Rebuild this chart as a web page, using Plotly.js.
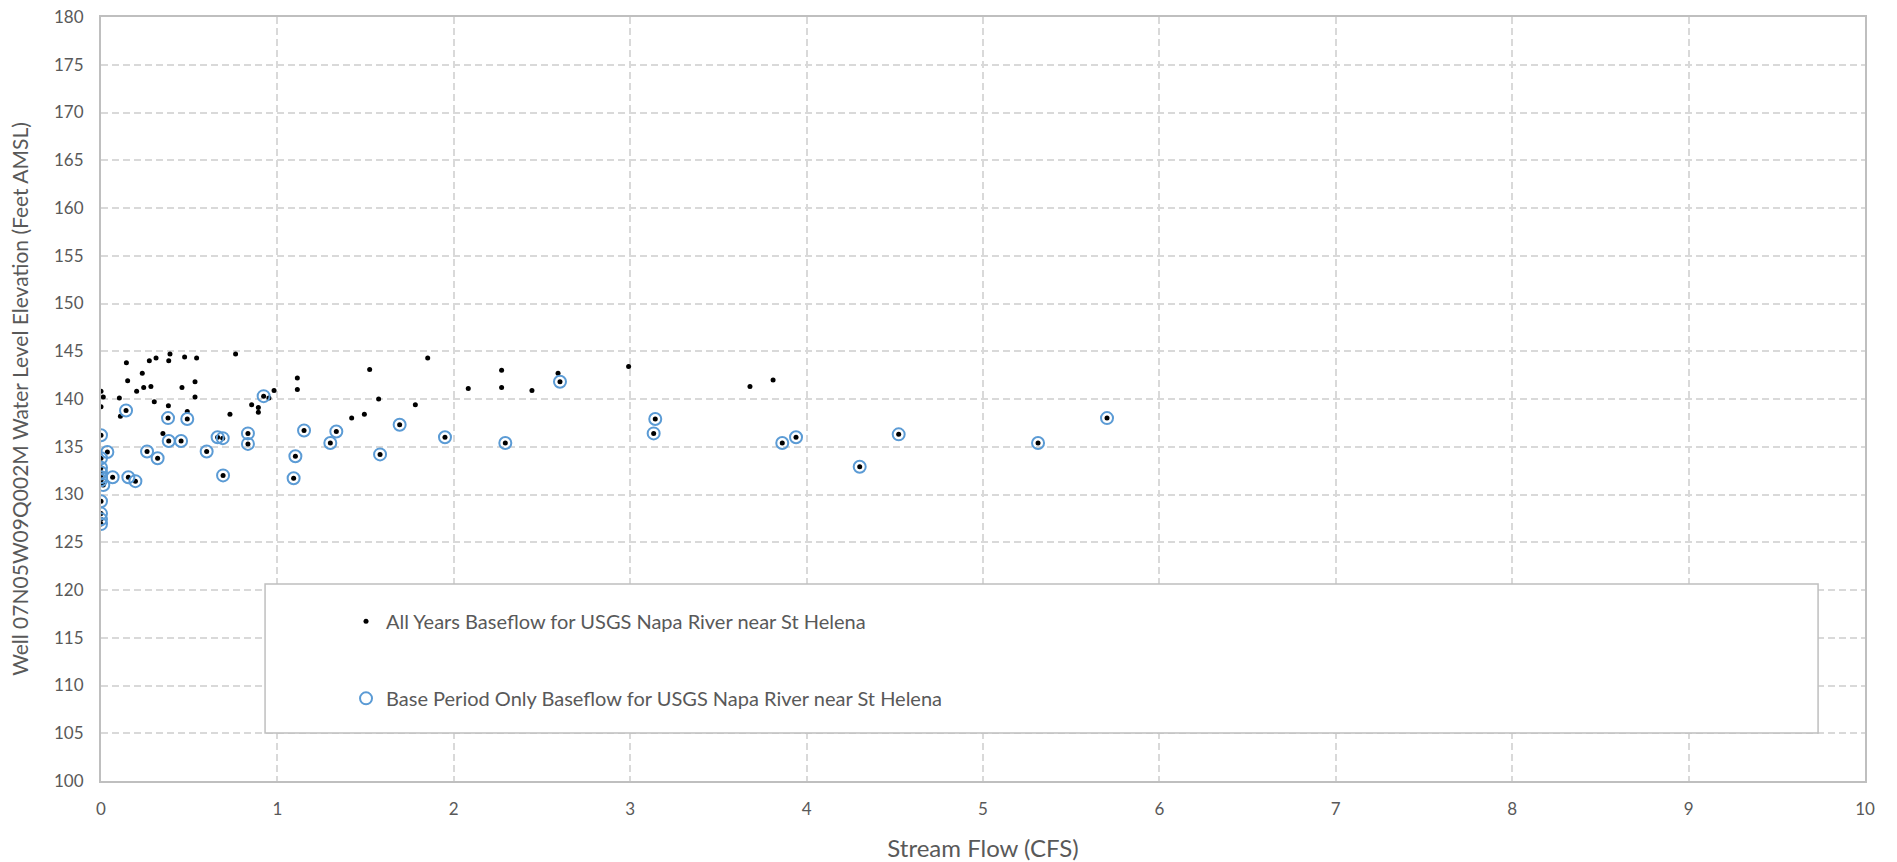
<!DOCTYPE html>
<html>
<head>
<meta charset="utf-8">
<script src="https://cdn.plot.ly/plotly-3.0.1.min.js"></script>
<style>
html,body{margin:0;padding:0;background:#fff;}
#chart{width:1897px;height:862px;}
</style>
</head>
<body>
<div id="chart"></div>
<script>
// Points that appear only in the "All Years" series (black dots without a blue ring)
const allYearsOnlyX = [0.00, 0.013, 0.00, 0.144, 0.151, 0.104, 0.11, 0.234, 0.274, 0.312, 0.391, 0.384, 0.474, 0.542, 0.763,
  0.202, 0.242, 0.283, 0.302, 0.382, 0.459, 0.533, 0.533, 0.489, 0.351, 0.731, 0.854, 0.892, 0.892, 0.952, 0.981,
  1.113, 1.113, 1.523, 1.852, 2.082, 1.574, 1.782, 1.421, 1.493,
  2.271, 2.271, 2.443, 2.591, 2.991, 3.679, 3.81];
const allYearsOnlyY = [140.8, 140.2, 139.2, 143.8, 141.9, 140.1, 138.2, 142.7, 144.0, 144.3, 144.7, 144.0, 144.4, 144.3, 144.7,
  140.8, 141.2, 141.3, 139.7, 139.3, 141.2, 141.8, 140.2, 138.7, 136.4, 138.4, 139.4, 139.1, 138.6, 140.1, 140.9,
  142.2, 141.0, 143.1, 144.3, 141.1, 140.0, 139.4, 138.0, 138.4,
  143.0, 141.2, 140.9, 142.7, 143.4, 141.3, 142.0];

// Base period points (blue rings, also part of the All Years series)
const baseX = [0.00, 0.142, 0.38, 0.489, 0.384, 0.454, 0.036, 0.00, 0.261, 0.321, 0.599, 0.661, 0.69, 0.833, 0.833, 0.922,
  0.692, 0.066, 0.155, 0.195, 0.00, 0.00, 0.00, 0.00, 0.013, 0.00, 0.00, 0.00, 0.00,
  1.151, 1.334, 1.30, 1.693, 1.102, 1.092, 1.582, 1.95,
  2.602, 2.292, 3.142, 3.133, 3.862, 3.94, 4.301, 4.522, 5.312, 5.703];
const baseY = [136.2, 138.8, 138.0, 137.9, 135.6, 135.6, 134.45, 133.8, 134.5, 133.8, 134.5, 136.0, 135.9, 136.4, 135.3, 140.3,
  132.0, 131.8, 131.8, 131.4, 132.8, 132.3, 131.8, 131.5, 131.0, 129.3, 128.0, 127.4, 126.9,
  136.7, 136.6, 135.4, 137.3, 134.0, 131.7, 134.2, 136.0,
  141.8, 135.4, 137.9, 136.4, 135.4, 136.0, 132.9, 136.3, 135.4, 138.0];

const xTicks = [0,1,2,3,4,5,6,7,8,9,10];
const yTicks = [100,105,110,115,120,125,130,135,140,145,150,155,160,165,170,175,180];

const allX = allYearsOnlyX.concat(baseX);
const allY = allYearsOnlyY.concat(baseY);

const FONT = 'Lato, "Open Sans", sans-serif';
const TXT = '#595959';

const traces = [
  {
    x: allX, y: allY, type: 'scatter', mode: 'markers',
    name: 'All Years Baseflow for USGS Napa River near St Helena',
    legendgroup: 'a',
    marker: {color: '#000000', size: 5, symbol: 'circle'},
    hoverinfo: 'x+y'
  },
  {
    x: baseX, y: baseY, type: 'scatter', mode: 'markers',
    name: 'Base Period Only Baseflow for USGS Napa River near St Helena',
    legendgroup: 'b',
    marker: {color: '#5B9BD5', size: 12, symbol: 'circle-open', line: {color: '#5B9BD5', width: 2}},
    hoverinfo: 'x+y'
  }
];

const layout = {
  width: 1897, height: 862,
  margin: {l: 101, r: 32, t: 17, b: 81},
  paper_bgcolor: '#ffffff', plot_bgcolor: '#ffffff',
  font: {family: FONT, color: TXT, size: 16},
  showlegend: true,
  xaxis: {
    range: [0, 10], tickvals: xTicks, ticktext: xTicks.map(String),
    showline: true, mirror: true, linecolor: '#BFBFBF', linewidth: 2,
    showgrid: true, gridcolor: '#D9D9D9', gridwidth: 1.5, griddash: '7px,4px',
    zeroline: false, ticks: '', ticklabelstandoff: 12,
    tickfont: {family: FONT, size: 17, color: TXT},
    title: {text: 'Stream Flow (CFS)', font: {family: FONT, size: 24, color: TXT}, standoff: 23},
    automargin: false
  },
  yaxis: {
    range: [100, 180], tickvals: yTicks, ticktext: yTicks.map(String),
    showline: true, mirror: true, linecolor: '#BFBFBF', linewidth: 2,
    showgrid: true, gridcolor: '#D9D9D9', gridwidth: 1.5, griddash: '7px,4px',
    zeroline: false, ticks: '', ticklabelstandoff: 12,
    tickfont: {family: FONT, size: 17, color: TXT},
    title: {text: 'Well 07N05W09Q002M Water Level Elevation (Feet AMSL)', font: {family: FONT, size: 21, color: TXT}, standoff: 20},
    automargin: false
  },
  shapes: [{
    type: 'rect', xref: 'paper', yref: 'paper',
    x0: 0.093, x1: 0.9734, y0: 0.0628, y1: 0.2579,
    fillcolor: '#ffffff', line: {color: '#BFBFBF', width: 1.5}, layer: 'above'
  }],
  legend: {
    x: 0.1389, xanchor: 'left', y: 0.2345, yanchor: 'top',
    bgcolor: 'rgba(0,0,0,0)', borderwidth: 0,
    font: {family: FONT, size: 20, color: TXT},
    tracegroupgap: 48, itemsizing: 'trace', traceorder: 'grouped'
  }
};

Plotly.newPlot('chart', traces, layout, {displayModeBar: false, responsive: false});
</script>
</body>
</html>
